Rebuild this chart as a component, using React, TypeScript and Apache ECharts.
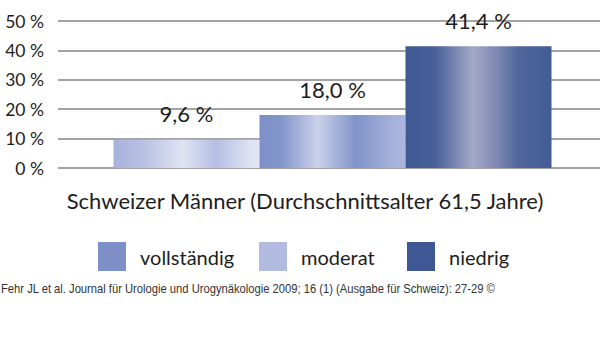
import React, { useEffect, useRef } from "react";
import * as echarts from "echarts";

const categories = ["Schweizer Männer (Durchschnittsalter 61,5 Jahre)"];
const seriesNames = ["moderat", "vollständig", "niedrig"];
const legendOrder = ["vollständig", "moderat", "niedrig"];
const moderatValues = [9.6];
const vollstaendigValues = [18.0];
const niedrigValues = [41.4];
const yTicks = [0, 10, 20, 30, 40, 50];
const sourceText =
  "Fehr JL et al. Journal für Urologie und Urogynäkologie 2009; 16 (1) (Ausgabe für Schweiz): 27-29 ©";

const FONT = "Lato, 'Noto Sans', sans-serif";

const grad = (stops: [number, string][]) =>
  new echarts.graphic.LinearGradient(
    0, 0, 1, 0,
    stops.map(([offset, color]) => ({ offset, color }))
  );

const barStyles: Record<string, any> = {
  moderat: grad([
    [0, "#a7b2db"],
    [0.22, "#bac3e4"],
    [0.47, "#e0e4f4"],
    [0.7, "#b4bee2"],
    [0.93, "#dde2f3"],
    [1, "#e2e6f5"],
  ]),
  "vollständig": grad([
    [0, "#7c8fc7"],
    [0.15, "#8396cb"],
    [0.4, "#cad1ea"],
    [0.66, "#8093c9"],
    [0.9, "#a4b0da"],
    [1, "#acb7de"],
  ]),
  niedrig: grad([
    [0, "#3f5994"],
    [0.2, "#475f98"],
    [0.46, "#a3a9c7"],
    [0.62, "#8089b4"],
    [0.78, "#4f659b"],
    [1, "#435b96"],
  ]),
};

const legendColors: Record<string, string> = {
  "vollständig": "#7d8fc7",
  moderat: "#b1bbdf",
  niedrig: "#3f5895",
};
const legendLeft: Record<string, number> = {
  "vollständig": 98,
  moderat: 259,
  niedrig: 407,
};

export default function App() {
  const ref = useRef<HTMLDivElement>(null);
  useEffect(() => {
    if (!ref.current) return;
    const chart = echarts.init(ref.current, undefined, { renderer: "svg" });

    let footScale = 1;
    try {
      const ctx = document.createElement("canvas").getContext("2d");
      if (ctx) {
        ctx.font = "13px 'Liberation Sans', Arial, sans-serif";
        const w = ctx.measureText(sourceText).width;
        if (w > 0) footScale = 495 / w;
      }
    } catch (e) {}

    const valuesByName: Record<string, number[]> = {
      moderat: moderatValues,
      "vollständig": vollstaendigValues,
      niedrig: niedrigValues,
    };

    chart.setOption({
      animation: false,
      backgroundColor: "#ffffff",
      grid: { left: 58, right: 0, top: 21, bottom: 176, containLabel: false },
      legend: legendOrder.map((name) => ({
        data: [{ name, itemStyle: { color: legendColors[name] } }],
        left: legendLeft[name],
        top: 242,
        icon: "rect",
        itemWidth: 28,
        itemHeight: 29,
        selectedMode: false,
        padding: 0,
        textStyle: {
          fontFamily: FONT,
          fontSize: 20,
          color: "#1e1e1e",
          padding: [0, 0, 0, 9],
        },
      })),
      xAxis: {
        type: "category",
        data: categories,
        axisLine: { show: false },
        axisTick: { show: false },
        axisLabel: {
          fontFamily: FONT,
          fontSize: 22,
          color: "#1e1e1e",
          margin: 21,
          padding: [0, 55, 0, 0],
        },
      },
      yAxis: {
        type: "value",
        min: yTicks[0],
        max: yTicks[yTicks.length - 1],
        interval: 10,
        axisLine: { show: false },
        axisTick: { show: false },
        axisLabel: {
          formatter: "{value} %",
          fontFamily: FONT,
          fontSize: 17.5,
          color: "#1e1e1e",
          margin: 14,
        },
        splitLine: { lineStyle: { color: "#a3a3a3", width: 2 } },
      },
      series: seriesNames.map((name) => ({
        name,
        type: "bar",
        data: valuesByName[name],
        barWidth: 146,
        barGap: "0%",
        itemStyle: { color: barStyles[name] },
        label: {
          show: true,
          position: "top",
          distance: 15,
          fontFamily: FONT,
          fontSize: 22,
          color: "#1e1e1e",
          formatter: (p: any) =>
            p.value.toFixed(1).replace(".", ",") + " %",
        },
      })),
      graphic: [
        {
          type: "text",
          x: 1,
          y: 289,
          scaleX: footScale,
          style: {
            text: sourceText,
            font: "13px 'Liberation Sans', Arial, sans-serif",
            fill: "#333",
            verticalAlign: "middle",
            align: "left",
          },
        },
      ],
    });
    return () => chart.dispose();
  }, []);
  return (
    <div
      style={{
        position: "absolute",
        left: 0,
        top: 0,
        width: 600,
        height: 344,
        overflow: "hidden",
        background: "#fff",
      }}
    >
      <div ref={ref} style={{ width: 607, height: 344 }} />
    </div>
  );
}
